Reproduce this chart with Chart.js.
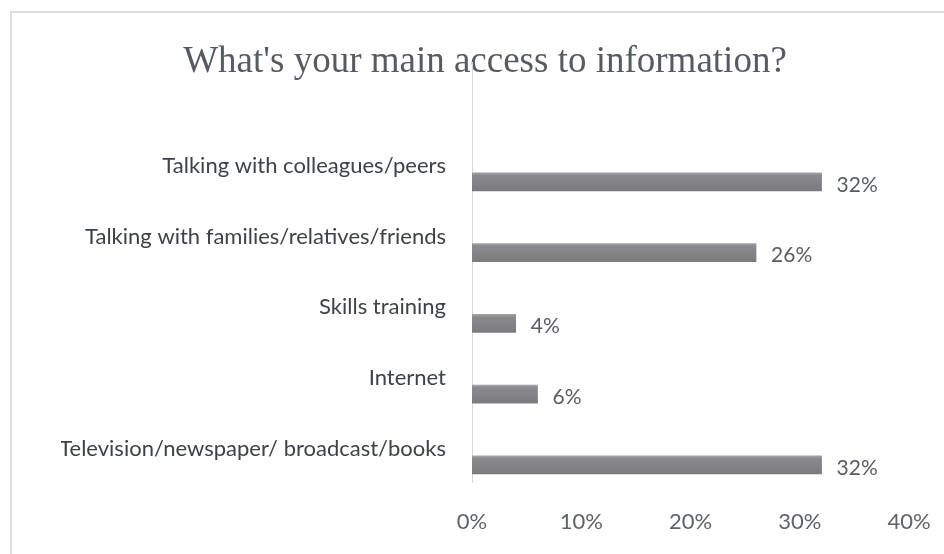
<!DOCTYPE html>
<html>
<head>
<meta charset="utf-8">
<script src="https://cdn.jsdelivr.net/npm/chart.js@4/dist/chart.umd.min.js"></script>
<style>
  html, body { margin: 0; padding: 0; background: #ffffff; overflow: hidden; }
  #frame {
    position: absolute; left: 10px; top: 11px; width: 1000px; height: 600px;
    border-top: 2px solid #dcdde3; border-left: 2px solid #dcdde3;
  }
  #wrap { position: absolute; left: 0; top: 0; width: 944px; height: 554px; }
</style>
</head>
<body>
<div id="frame"></div>
<div id="wrap"><canvas id="chart" width="944" height="554"></canvas></div>
<script>
// Survey answers, top to bottom
const categories = [
  'Talking with colleagues/peers',
  'Talking with families/relatives/friends',
  'Skills training',
  'Internet',
  'Television/newspaper/ broadcast/books'
];
const shares = [32, 26, 4, 6, 32];
const xTicks = [0, 10, 20, 30, 40];

const points = shares.map((v, i) => ({ x: v, y: i }));

const sansFont = 'Lato, "Open Sans", sans-serif';

// Soft vertical shading on each bar
function barFill(ctx) {
  const chart = ctx.chart;
  const yScale = chart.scales.y;
  if (!yScale || !chart.chartArea || ctx.dataIndex === undefined) return '#828286';
  const py = yScale.getPixelForValue(ctx.dataIndex);
  const g = chart.ctx.createLinearGradient(0, py - 9, 0, py + 9);
  g.addColorStop(0, '#a2a2a6');
  g.addColorStop(0.15, '#8a8a8e');
  g.addColorStop(1, '#7b7b7f');
  return g;
}

// Percent text just past the end of each bar
const valueLabels = {
  id: 'valueLabels',
  afterDatasetsDraw(chart) {
    const { ctx } = chart;
    const meta = chart.getDatasetMeta(0);
    ctx.save();
    ctx.font = '21px ' + sansFont;
    ctx.fillStyle = '#595d63';
    ctx.textAlign = 'left';
    ctx.textBaseline = 'middle';
    meta.data.forEach((bar, i) => {
      ctx.fillText(shares[i] + '%', bar.x + 15, bar.y + 3);
    });
    ctx.restore();
  }
};

new Chart(document.getElementById('chart'), {
  type: 'bar',
  data: {
    datasets: [{
      data: points,
      backgroundColor: barFill,
      borderWidth: 0,
      barThickness: 18
    }]
  },
  plugins: [valueLabels],
  options: {
    indexAxis: 'y',
    responsive: false,
    animation: false,
    layout: { padding: { left: 61, right: 35, top: 0, bottom: 0 } },
    plugins: {
      legend: { display: false },
      tooltip: { enabled: false },
      title: {
        display: true,
        text: "What's your main access to information?",
        color: '#575b61',
        font: { family: '"Liberation Serif", "DejaVu Serif", serif', size: 37, weight: 'normal', lineHeight: 1.2 },
        padding: { top: 40, bottom: -22 }
      }
    },
    scales: {
      x: {
        type: 'linear',
        min: 0,
        max: 40,
        afterBuildTicks(scale) { scale.ticks = xTicks.map(v => ({ value: v })); },
        afterFit(scale) {
          scale.height = 72;
          scale.paddingLeft = 0;
          scale.paddingRight = 0;
        },
        ticks: {
          callback: v => v + '%',
          color: '#5f6368',
          font: { family: sansFont, size: 22 },
          padding: 27,
          maxRotation: 0
        },
        grid: { display: false, drawTicks: false },
        border: { display: false }
      },
      y: {
        type: 'linear',
        reverse: true,
        offset: false,
        min: -1.688,
        max: 4.241,
        afterBuildTicks(scale) { scale.ticks = categories.map((_, i) => ({ value: i })); },
        afterFit(scale) { scale.width = 411; },
        ticks: {
          callback: v => categories[v],
          color: '#3d4248',
          font: { family: sansFont, size: 22 },
          padding: 26,
          labelOffset: -16
        },
        grid: { display: false, drawTicks: false },
        border: { display: true, color: '#d6d6d8', width: 1 }
      }
    }
  }
});
</script>
</body>
</html>
